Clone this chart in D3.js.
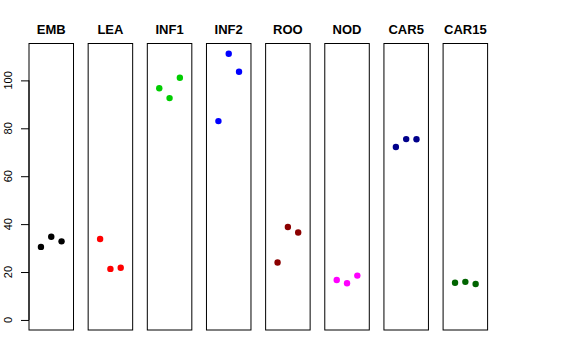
<!DOCTYPE html>
<html>
<head>
<meta charset="utf-8">
<script src="https://cdn.jsdelivr.net/npm/d3@7"></script>
<style>
  html, body { margin: 0; padding: 0; background: #fff; }
  svg { display: block; font-family: "Liberation Sans", Arial, Helvetica, sans-serif; }
</style>
</head>
<body>
<svg id="chart" width="576" height="360"></svg>
<script>
// ---- data ----
const categories = ["EMB", "LEA", "INF1", "INF2", "ROO", "NOD", "CAR5", "CAR15"];
const colors = ["#000000", "#FF0000", "#00CD00", "#0000FF", "#8B0000", "#FF00FF", "#00008B", "#006400"];
const replicates = [1, 2, 3];
const valuesEMB   = [30.5, 34.7, 32.8];
const valuesLEA   = [33.8, 21.3, 21.8];
const valuesINF1  = [96.7, 92.6, 101.1];
const valuesINF2  = [83.0, 111.1, 103.6];
const valuesROO   = [24.0, 38.8, 36.5];
const valuesNOD   = [16.7, 15.3, 18.5];
const valuesCAR5  = [72.2, 75.5, 75.4];
const valuesCAR15 = [15.5, 15.9, 15.0];
const yTicks = [0, 20, 40, 60, 80, 100];

const seriesValues = [valuesEMB, valuesLEA, valuesINF1, valuesINF2, valuesROO, valuesNOD, valuesCAR5, valuesCAR15];

// ---- layout ----
const svg = d3.select("#chart");
const panelLeft = 29, panelRight = 487.6, panelTop = 43.5, panelBottom = 330;

const xBand = d3.scaleBand()
  .domain(categories)
  .range([panelLeft, panelRight])
  .paddingInner(0.2476)
  .paddingOuter(0);

const xIn = d3.scaleLinear().domain([-0.16, 4.16]).range([0, xBand.bandwidth()]);
const y = d3.scaleLinear().domain([-4.2, 115.4]).range([panelBottom, panelTop]);

const panels = svg.selectAll("g.panel")
  .data(categories.map((c, i) => ({ cat: c, color: colors[i], vals: seriesValues[i] })))
  .enter().append("g")
  .attr("class", "panel")
  .attr("transform", d => `translate(${xBand(d.cat)},0)`);

panels.append("rect")
  .attr("x", 0)
  .attr("y", panelTop)
  .attr("width", xBand.bandwidth())
  .attr("height", panelBottom - panelTop)
  .attr("fill", "none")
  .attr("stroke", "#000")
  .attr("stroke-width", 1);

panels.append("text")
  .attr("x", xBand.bandwidth() / 2)
  .attr("y", 34)
  .attr("text-anchor", "middle")
  .attr("font-weight", "bold")
  .attr("font-size", "13px")
  .attr("fill", "#000")
  .text(d => d.cat);

panels.selectAll("circle")
  .data(d => d.vals.map((v, j) => ({ v, rep: replicates[j], color: d.color })))
  .enter().append("circle")
  .attr("cx", d => xIn(d.rep))
  .attr("cy", d => y(d.v))
  .attr("r", 3.2)
  .attr("fill", d => d.color);

// ---- y axis ----
const axis = svg.append("g")
  .attr("transform", `translate(${panelLeft},0)`)
  .call(d3.axisLeft(y).tickValues(yTicks).tickSize(8).tickFormat(""));
axis.select(".domain").remove();
axis.append("line")
  .attr("x1", 0).attr("x2", 0)
  .attr("y1", y(0)).attr("y2", y(100))
  .attr("stroke", "#000");
axis.selectAll(".tick line").attr("stroke", "#000");

svg.append("g").selectAll("text")
  .data(yTicks)
  .enter().append("text")
  .attr("transform", d => `translate(11.5,${y(d)}) rotate(-90)`)
  .attr("text-anchor", "middle")
  .attr("font-size", "11px")
  .attr("fill", "#000")
  .text(d => d);
</script>
</body>
</html>
